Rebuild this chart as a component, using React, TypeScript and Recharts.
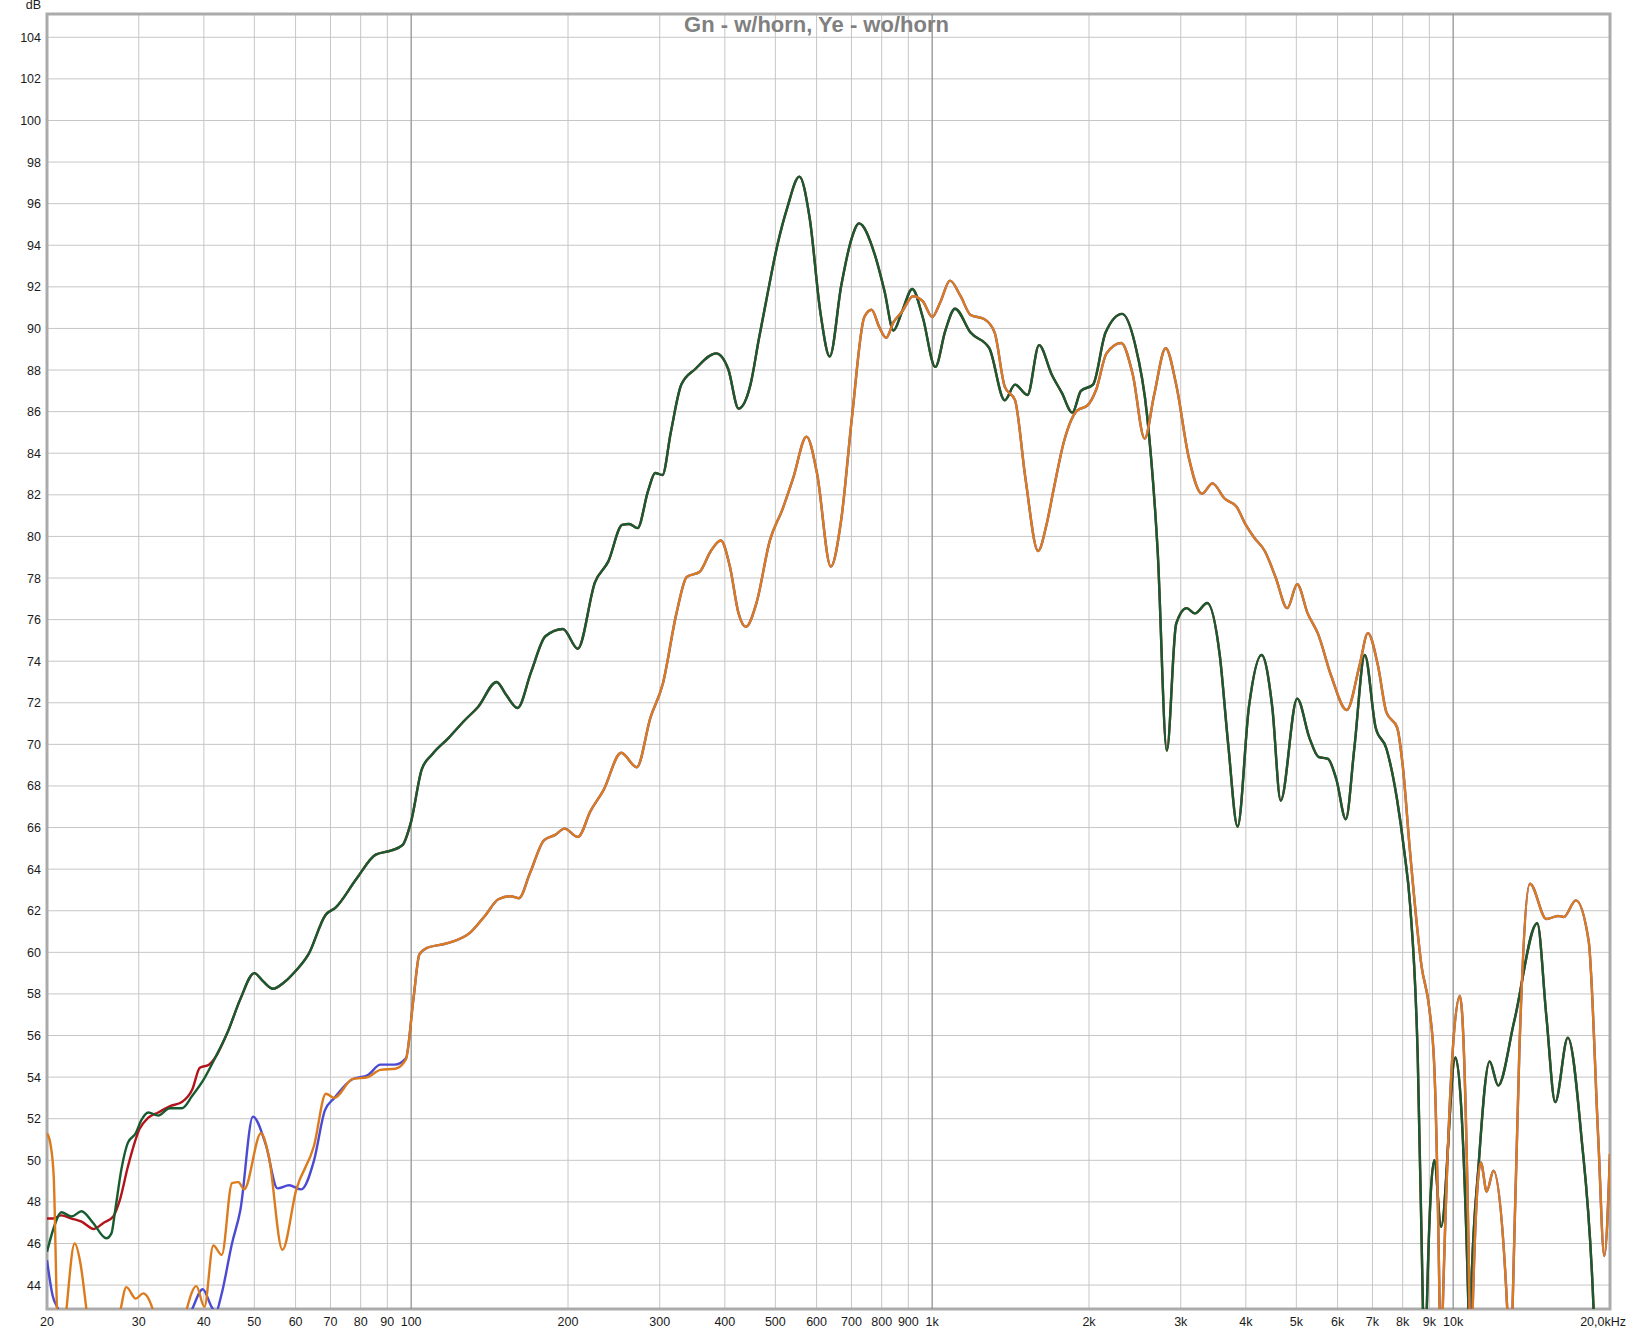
import React from 'react';
import { LineChart, Line, XAxis, YAxis, CartesianGrid, ReferenceLine, ReferenceArea } from 'recharts';

const W = 1633;
const H = 1331;
const Y_MIN = 42.85;
const Y_MAX = 105.12;
const FONT = '"Liberation Sans", Arial, sans-serif';

const X_TICKS = [20, 30, 40, 50, 60, 70, 80, 90, 100, 200, 300, 400, 500, 600, 700, 800, 900,
  1000, 2000, 3000, 4000, 5000, 6000, 7000, 8000, 9000, 10000, 20000];
const Y_TICKS = [44, 46, 48, 50, 52, 54, 56, 58, 60, 62, 64, 66, 68, 70, 72, 74, 76, 78, 80,
  82, 84, 86, 88, 90, 92, 94, 96, 98, 100, 102, 104];
const DECADES = [100, 1000, 10000];

// Gn - with horn (green), red trace sits under it and only differs below ~45 Hz
const greenF = [20, 20.7, 21.3, 22.3, 23.3, 24.5, 26, 26.6, 27, 27.8, 28.6, 29.6, 30.3, 31.3, 32.7,
  34.4, 36.3, 38, 39.9, 42.2, 44.5, 47, 50, 52, 54.3, 57, 60, 63.5, 68.5, 71.6, 78.6, 85.5, 91.7,
  96.2, 100, 104.8, 110, 117.9, 126.6, 134.4, 145.9, 152, 160, 170, 181, 195.6, 208.8, 225.4, 239,
  254, 262, 272, 285, 294, 303.6, 315, 330, 351, 385, 406, 425, 448, 465, 480, 505, 527, 556, 582,
  610, 636, 669, 700, 724, 776, 810, 843, 875, 916, 959, 1014, 1060, 1106, 1185, 1287, 1378, 1442,
  1524, 1604, 1695, 1774, 1858, 1930, 2036, 2152, 2316, 2448, 2586, 2709, 2821, 2940, 3079, 3194,
  3372, 3564, 3700, 3857, 4055, 4288, 4495, 4666, 5019, 5300, 5514, 5752, 5970, 6223, 6460, 6767,
  7101, 7444, 7809, 8053, 8266, 8550, 8750, 8830, 8900, 9200, 9480, 10100, 10700, 10750, 10800,
  11200, 11750, 12200, 13100, 14500, 15100, 15700, 16600, 17600, 18600, 19000, 20000];
const greenDb = [45.6, 46.9, 47.5, 47.3, 47.55, 47.0, 46.25, 46.5, 47.5, 49.6, 50.85, 51.3, 51.9,
  52.3, 52.15, 52.5, 52.5, 53.1, 53.85, 55.0, 56.2, 57.75, 59.0, 58.6, 58.25, 58.55, 59.1, 59.9,
  61.8, 62.15, 63.55, 64.7, 64.9, 65.15, 66.3, 68.8, 69.55, 70.3, 71.15, 71.8, 73.0, 72.4, 71.75,
  73.5, 75.2, 75.55, 74.6, 77.8, 78.8, 80.55, 80.6, 80.4, 82.2, 83.05, 82.95, 85.0, 87.3, 88.05,
  88.8, 88.05, 86.15, 87.3, 89.5, 91.3, 94.05, 95.8, 97.3, 95.3, 90.8, 88.65, 92.05, 94.3, 95.05,
  93.55, 91.8, 89.9, 90.8, 91.9, 90.55, 88.15, 89.9, 90.95, 89.8, 89.05, 86.55, 87.3, 86.8, 89.2,
  87.8, 86.9, 85.95, 87.0, 87.3, 89.8, 90.7, 89.3, 85.8, 79.3, 69.7, 75.8, 76.55, 76.3, 76.8, 74.3,
  70.0, 66.05, 71.8, 74.3, 71.8, 67.3, 72.2, 70.3, 69.4, 69.3, 68.3, 66.4, 69.8, 74.3, 70.8, 69.8,
  67.3, 64.9, 62.3, 55.0, 42.85, 38, 42.85, 50.0, 46.8, 54.95, 42.85, 38, 42.85, 49.9, 54.75, 53.6,
  56.7, 61.4, 56.9, 52.8, 55.9, 51.3, 42.85, 36, 30];

const redLowF = [20, 20.5, 21.3, 22.3, 23.3, 24.6, 25.7, 26.8, 27.6, 28.6, 30.1, 31.3, 32.7, 34.4,
  36.3, 38, 39.3, 40.9, 42.2];
const redLowDb = [47.2, 47.2, 47.35, 47.2, 47.05, 46.7, 47.0, 47.3, 48.1, 49.7, 51.5, 52.05, 52.3,
  52.6, 52.8, 53.4, 54.45, 54.6, 55.0];

// Ye - without horn (orange), blue trace under it differs below ~100 Hz
const orangeF = [20, 20.3, 20.6, 20.9, 21.3, 21.8, 22.6, 23.2, 23.8, 25.5, 27.7, 28.4, 29.6, 30.6,
  31.9, 34.5, 37.1, 38.7, 40.1, 41.7, 43.3, 45.3, 46.6, 47.8, 51.5, 53.3, 56.6, 60.2, 65.1, 68.6,
  71.2, 77.1, 82.6, 87.3, 93.2, 97.7, 101, 103.7, 107, 117.9, 129.8, 139, 147, 155, 161, 169, 180,
  189, 197, 209, 221, 234, 253, 271, 288, 304, 323, 338, 358, 376, 393, 409, 425, 439, 460, 488,
  516, 541, 574, 601, 639, 669, 702, 741, 765, 792, 816, 843, 875, 919, 960, 1000, 1038, 1082, 1134,
  1185, 1258, 1318, 1378, 1442, 1510, 1597, 1657, 1712, 1790, 1897, 1987, 2064, 2161, 2306, 2426,
  2558, 2667, 2807, 2940, 3108, 3295, 3450, 3648, 3833, 4000, 4148, 4349, 4560, 4805, 5019, 5256,
  5506, 5832, 6248, 6613, 6860, 7170, 7444, 7809, 8000, 8260, 8700, 9000, 9200, 9420, 9480, 9550,
  10300, 10750, 10820, 10900, 11300, 11600, 11950, 12700, 12850, 13000, 13400, 14040, 15100, 15900,
  16300, 17200, 18200, 19000, 19500, 20000];
const orangeDb = [51.3, 50.8, 49.25, 42.85, 40, 42.85, 46.0, 45.0, 42.85, 36, 42.85, 43.9, 43.35,
  43.6, 42.85, 38, 42.85, 43.95, 42.95, 45.9, 45.45, 48.9, 48.95, 48.6, 51.3, 50.2, 45.7, 48.6, 50.7,
  53.2, 53.0, 53.9, 54.0, 54.35, 54.4, 54.85, 57.75, 59.9, 60.2, 60.45, 60.95, 61.8, 62.55, 62.7,
  62.6, 63.8, 65.4, 65.65, 65.95, 65.55, 66.8, 67.8, 69.6, 68.9, 71.3, 72.9, 76.3, 78.05, 78.3, 79.3,
  79.8, 78.55, 76.3, 75.65, 76.8, 79.8, 81.3, 82.8, 84.8, 83.05, 78.55, 80.8, 85.8, 90.55, 90.9,
  90.05, 89.55, 90.3, 90.8, 91.55, 91.3, 90.55, 91.3, 92.3, 91.55, 90.65, 90.45, 89.8, 87.2, 86.55,
  82.8, 79.3, 80.55, 82.3, 84.55, 86.05, 86.3, 87.05, 88.8, 89.3, 87.8, 84.7, 86.8, 89.05, 87.3,
  83.8, 82.05, 82.55, 81.8, 81.45, 80.55, 79.95, 79.3, 78.05, 76.55, 77.7, 76.3, 75.3, 73.3, 71.65,
  73.8, 75.35, 73.8, 71.55, 70.8, 69.0, 64.9, 59.3, 57.3, 54.5, 42.85, 38, 42.85, 57.9, 42.85, 38,
  42.85, 49.9, 48.5, 49.5, 42.85, 38, 42.85, 55.3, 63.3, 61.6, 61.75, 61.7, 62.5, 60.55, 50.9, 45.4,
  50.3];

const blueLowF = [20, 20.5, 21, 28, 38, 39.8, 41.5, 42.2, 43.2, 45.3, 47, 49.7, 52.6, 55.4, 58.3,
  61.5, 65.1, 68.3, 71.2, 77.1, 82.6, 87.3, 93, 97.7];
const blueLowDb = [45.2, 43.5, 42.85, 30, 42.85, 43.8, 42.9, 42.7, 43.5, 46.0, 47.6, 52.1, 50.75,
  48.65, 48.8, 48.6, 50.0, 52.4, 53.0, 53.9, 54.1, 54.6, 54.6, 54.9];

const toPoints = (f: number[], db: number[]) => f.map((v, i) => ({ f: v, db: db[i] }));

const greenData = toPoints(greenF, greenDb);
const orangeData = toPoints(orangeF, orangeDb);
const redData = [...toPoints(redLowF, redLowDb), ...greenData.filter((p) => p.f > 42.2)];
const blueData = [...toPoints(blueLowF, blueLowDb), ...orangeData.filter((p) => p.f > 97.7)];

const xLabel = (v: number) => (v === 20000 ? '20,0kHz' : v >= 1000 ? `${v / 1000}k` : `${v}`);

const XTick = (props: any) => {
  const { x, payload } = props;
  const last = payload.value === 20000;
  return (
    <text x={last ? x + 16 : x} y={H - 5} textAnchor={last ? 'end' : 'middle'}
      fontSize={12.5} fontFamily={FONT} fill="#1a1a1a">
      {xLabel(payload.value)}
    </text>
  );
};

const YTick = (props: any) => {
  const { y, payload } = props;
  return (
    <text x={41} y={y + 4.5} textAnchor="end" fontSize={12.5} fontFamily={FONT} fill="#1a1a1a">
      {payload.value}
    </text>
  );
};

export default function App() {
  return (
    <div style={{ position: 'absolute', left: 0, top: 0, width: W, height: H, background: '#fff' }}>
      <LineChart width={W} height={H} margin={{ top: 14, right: 23, bottom: 0, left: 0 }}>
        <CartesianGrid stroke="#c6c6c6" strokeWidth={1} />
        <XAxis type="number" dataKey="f" scale="log" domain={[20, 20000]} allowDataOverflow
          ticks={X_TICKS} interval={0} height={22} tick={<XTick />} tickLine={false} axisLine={false} />
        <YAxis type="number" dataKey="db" domain={[Y_MIN, Y_MAX]} allowDataOverflow
          ticks={Y_TICKS} interval={0} width={47} tick={<YTick />} tickLine={false} axisLine={false} />
        {DECADES.map((d) => (
          <ReferenceLine key={d} x={d} stroke="#8c8c8c" strokeWidth={1} />
        ))}
        <Line data={redData} dataKey="db" type="monotone" stroke="#b3141c" strokeWidth={2.4}
          dot={false} activeDot={false} isAnimationActive={false} />
        <Line data={greenData} dataKey="db" type="monotone" stroke="#175c30" strokeWidth={2.4}
          dot={false} activeDot={false} isAnimationActive={false} />
        <Line data={blueData} dataKey="db" type="monotone" stroke="#4a4ad2" strokeWidth={2.4}
          dot={false} activeDot={false} isAnimationActive={false} />
        <Line data={orangeData} dataKey="db" type="monotone" stroke="#db7b1e" strokeWidth={2.4}
          dot={false} activeDot={false} isAnimationActive={false} />
        <ReferenceArea x1={20} x2={20000} y1={Y_MIN} y2={Y_MAX} fill="none" fillOpacity={0}
          stroke="#ababab" strokeWidth={3} ifOverflow="visible" />
      </LineChart>
      <div style={{ position: 'absolute', left: 0, top: -2, width: 41, textAlign: 'right',
        fontFamily: FONT, fontSize: 12.5, color: '#1a1a1a' }}>dB</div>
      <div style={{ position: 'absolute', left: 0, top: 13, width: W, textAlign: 'center',
        fontFamily: FONT, fontSize: 22, lineHeight: '24px', fontWeight: 'bold', color: '#808080' }}>
        Gn - w/horn, Ye - wo/horn
      </div>
    </div>
  );
}
